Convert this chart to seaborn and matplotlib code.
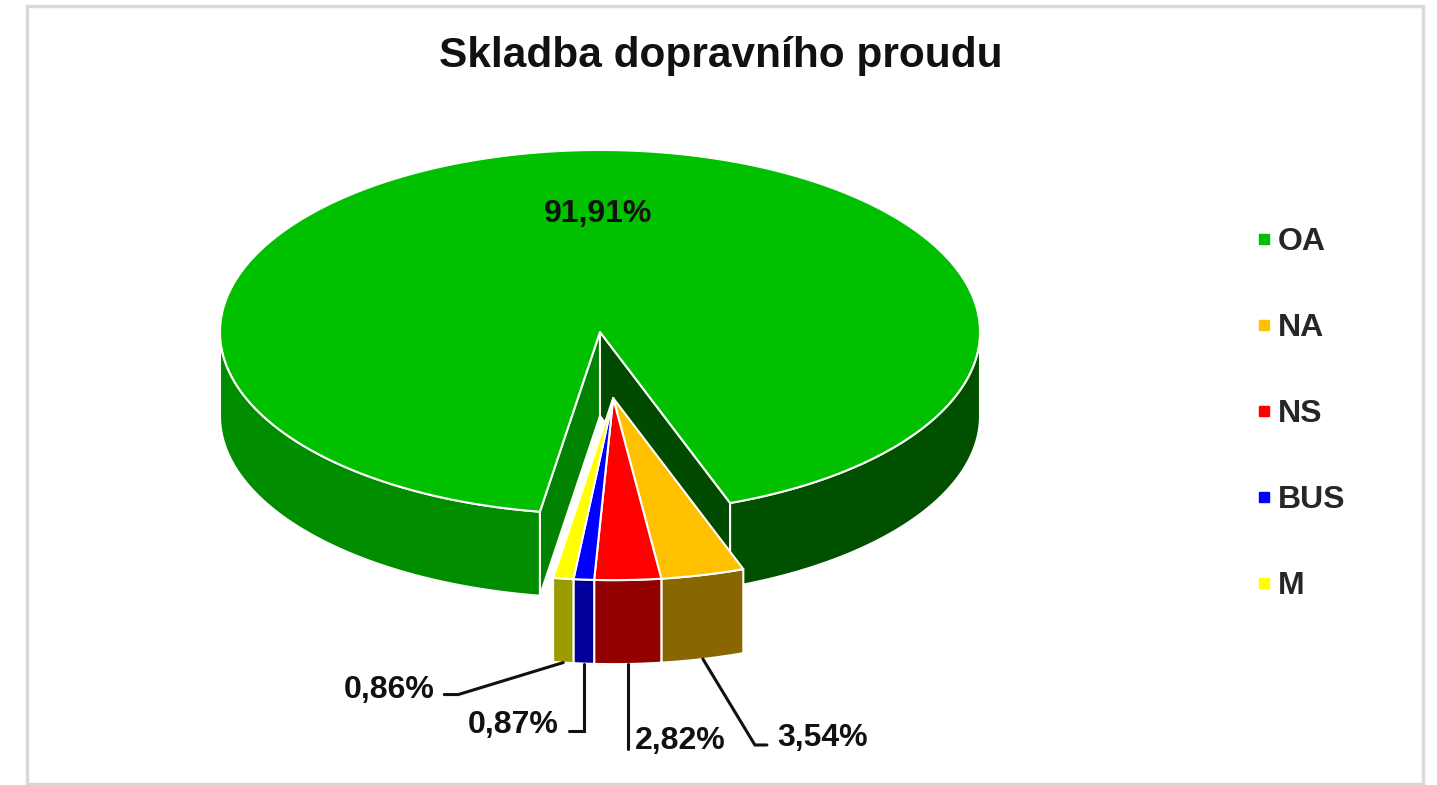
import numpy as np
import matplotlib
matplotlib.use("Agg")
import matplotlib.pyplot as plt
import seaborn as sns
from matplotlib.patches import Polygon, Rectangle
from matplotlib.lines import Line2D
from matplotlib.colors import to_rgb

# data
categories = ["OA", "NA", "NS", "BUS", "M"]
shares = [91.91, 3.54, 2.82, 0.87, 0.86]
value_labels = ["91,91%", "3,54%", "2,82%", "0,87%", "0,86%"]
colors = ["#00C000", "#FFC000", "#FF0000", "#0000FF", "#FFFF00"]
title = "Skladba dopravního proudu"

sns.set_style("white")
plt.rcParams["font.family"] = ["Liberation Sans", "DejaVu Sans"]

# layout (pixel space, y pointing down)
W, H = 1437, 785
CX, CY = 600, 332
RX, RY = 380, 182
DEPTH = 84
START = -99.1          # first slice starts at left edge of the front gap, clockwise
EXPLODE_SMALL = 0.365  # the small slices are pulled out together
EDGE = "white"

# label leader paths, offsets from the bottom of each slice's side wall
leader_paths = {
    "NA": [(52, 86), (64, 86)],
    "NS": [(0, 85)],
    "BUS": [(0, 67), (-15, 67)],
    "M": [(-105, 32), (-119, 32)],
}
text_offsets = {
    "NA": (74, 79, "left"),
    "NS": (7, 77, "left"),
    "BUS": (-25, 61, "right"),
    "M": (-129, 27, "right"),
}


def shade(color, f):
    r, g, b = to_rgb(color)
    return (r * f, g * f, b * f)


def arc(cx, cy, a0, a1, n=200):
    t = np.radians(np.linspace(a0, a1, n))
    return np.column_stack([cx + RX * np.cos(t), cy - RY * np.sin(t)])


def front_parts(a_hi, a_lo):
    # parts of the clockwise range [a_hi -> a_lo] lying on the front half (sin < 0)
    out = []
    for k in range(-3, 2):
        lo, hi = -180 + 360 * k, 360 * k
        s, e = max(a_lo, lo), min(a_hi, hi)
        if e > s:
            out.append((e, s))
    return out


fig = plt.figure(figsize=(W / 100, H / 100), dpi=100)
ax = fig.add_axes([0, 0, 1, 1])
ax.set_xlim(0, W)
ax.set_ylim(H, 0)
ax.axis("off")

# slice angles
edges = [START]
for s in shares:
    edges.append(edges[-1] - s * 3.6)

small_mid = np.radians((edges[1] + edges[-1]) / 2)
scx = CX + EXPLODE_SMALL * RX * np.cos(small_mid)
scy = CY - EXPLODE_SMALL * RY * np.sin(small_mid)

# big slice: radial walls in the gap
a0, a1 = edges[0], edges[1]
for ang, f in [(a0, 0.68), (a1, 0.39)]:
    p = arc(CX, CY, ang, ang, 1)[0]
    wall = [(CX, CY), p, (p[0], p[1] + DEPTH), (CX, CY + DEPTH)]
    ax.add_patch(Polygon(wall, closed=True, fc=shade(colors[0], f), ec=EDGE, lw=1.5, joinstyle="round"))

# big slice: outer side walls
for e, s in front_parts(a0, a1):
    top = arc(CX, CY, e, s)
    bot = top[::-1] + [0, DEPTH]
    f = 0.58 - 0.2 * np.cos(np.radians((e + s) / 2))
    ax.add_patch(Polygon(np.vstack([top, bot]), closed=True, fc=shade(colors[0], f), ec=EDGE, lw=1.5, joinstyle="round"))

# big slice: top
ax.add_patch(Polygon(np.vstack([[CX, CY], arc(CX, CY, a0, a1, 600)]), closed=True,
                     fc=colors[0], ec=EDGE, lw=1.5, joinstyle="round"))
mid = np.radians((a0 + a1) / 2)
ax.text(CX + 0.65 * RX * np.cos(mid) + 22, CY - 0.65 * RY * np.sin(mid), value_labels[0],
        ha="center", va="center", fontsize=23, weight="bold", color="#111111")

# small slices: sides then tops
for i in range(1, len(shares)):
    b0, b1 = edges[i], edges[i + 1]
    for e, s in front_parts(b0, b1):
        top = arc(scx, scy, e, s, 60)
        bot = top[::-1] + [0, DEPTH]
        f = 0.58 - 0.2 * np.cos(np.radians((e + s) / 2))
        ax.add_patch(Polygon(np.vstack([top, bot]), closed=True, fc=shade(colors[i], f), ec=EDGE, lw=1.5, joinstyle="round"))
for i in range(1, len(shares)):
    b0, b1 = edges[i], edges[i + 1]
    ax.add_patch(Polygon(np.vstack([[scx, scy], arc(scx, scy, b0, b1, 60)]), closed=True,
                         fc=colors[i], ec=EDGE, lw=1.5, joinstyle="round"))

# labels with leader lines
for i in range(1, len(shares)):
    cat = categories[i]
    m = np.radians((edges[i] + edges[i + 1]) / 2)
    ax_, ay_ = scx + RX * np.cos(m), scy - RY * np.sin(m) + DEPTH
    pts = [(ax_, ay_)] + [(ax_ + dx, ay_ + dy) for dx, dy in leader_paths[cat]]
    xs, ys = zip(*pts)
    ax.plot(xs, ys, color="#111111", lw=2.2, solid_joinstyle="miter")
    dx, dy, ha = text_offsets[cat]
    ax.text(ax_ + dx, ay_ + dy, value_labels[i], ha=ha, va="center",
            fontsize=23, weight="bold", color="#111111")

# title and frame
ax.text(721, 56, title, ha="center", va="center", fontsize=30.5, weight="bold", color="#111111")
ax.add_patch(Rectangle((27, 6), 1396, 778, fill=False, ec="#d9d9d9", lw=2.5))

handles = [Line2D([], [], marker="s", linestyle="none", markersize=7,
                  markerfacecolor=c, markeredgecolor=c) for c in colors]
fig.legend(handles, categories, loc="center left", bbox_to_anchor=(1238 / W, 1 - 414 / H),
           frameon=False, prop=dict(size=23, weight="bold"), labelspacing=1.75,
           handlelength=0.6, handletextpad=0.15, borderpad=0)

fig.savefig("out.png", dpi=100)
